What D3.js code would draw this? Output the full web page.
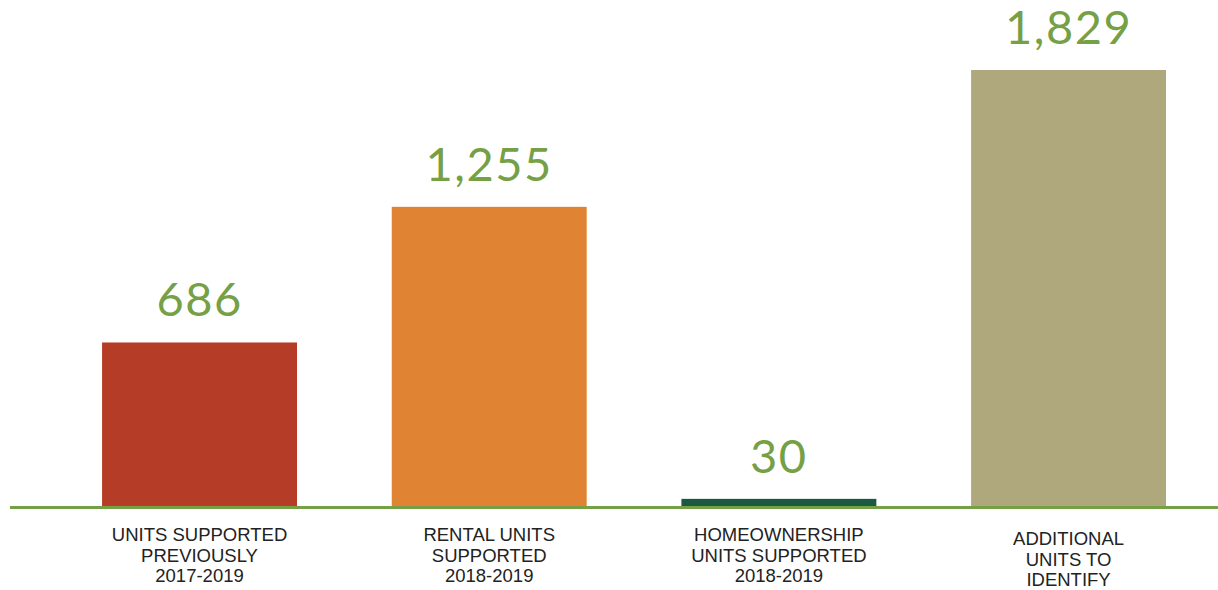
<!DOCTYPE html>
<html>
<head>
<meta charset="utf-8">
<script src="https://cdn.jsdelivr.net/npm/d3@7"></script>
<style>
  html, body { margin: 0; padding: 0; background: #ffffff; }
  svg { display: block; }
</style>
</head>
<body>
<svg id="chart" width="1218" height="590"></svg>
<script>
const categories = ["units_prev", "rental", "homeownership", "additional"];
const categoryLabels = [
  ["UNITS SUPPORTED", "PREVIOUSLY", "2017-2019"],
  ["RENTAL UNITS", "SUPPORTED", "2018-2019"],
  ["HOMEOWNERSHIP", "UNITS SUPPORTED", "2018-2019"],
  ["ADDITIONAL", "UNITS TO", "IDENTIFY"]
];
const values = [686, 1255, 30, 1829];
const barColors = ["#b53d27", "#e08434", "#1b5a40", "#b0a87d"];

const svg = d3.select("#chart");
const W = 1218, baseline = 506, topY = 70;

const x = d3.scaleBand()
  .domain(categories)
  .range([54.7, 1213.4])
  .paddingInner(0.327)
  .paddingOuter(0.1635);

const y = d3.scaleLinear()
  .domain([0, d3.max(values)])
  .range([baseline, topY]);

const data = categories.map((c, i) => ({ c, v: values[i], color: barColors[i], lines: categoryLabels[i] }));

svg.selectAll("rect.bar")
  .data(data)
  .join("rect")
  .attr("class", "bar")
  .attr("x", d => x(d.c))
  .attr("width", x.bandwidth())
  .attr("y", d => y(d.v))
  .attr("height", d => baseline - y(d.v))
  .attr("fill", d => d.color);

// baseline axis line
svg.append("line")
  .attr("x1", 10).attr("x2", W)
  .attr("y1", baseline + 1.5).attr("y2", baseline + 1.5)
  .attr("stroke", "#76a046")
  .attr("stroke-width", 3);

// value labels
svg.selectAll("text.val")
  .data(data)
  .join("text")
  .attr("class", "val")
  .attr("x", d => x(d.c) + x.bandwidth() / 2)
  .attr("y", d => y(d.v) - 26)
  .attr("text-anchor", "middle")
  .attr("font-family", "Lato, 'Open Sans', sans-serif")
  .attr("font-size", 47)
  .attr("letter-spacing", 1.5)
  .attr("fill", "#76a046")
  .text(d => d3.format(",")(d.v));

// category labels
const lab = svg.selectAll("text.cat")
  .data(data)
  .join("text")
  .attr("class", "cat")
  .attr("text-anchor", "middle")
  .attr("font-family", "'Liberation Sans', Arial, sans-serif")
  .attr("font-size", 18.5)
  .attr("fill", "#222222");

lab.each(function(d, i) {
  const t = d3.select(this);
  const cx = x(d.c) + x.bandwidth() / 2;
  const y0 = i === 3 ? 545 : 541;
  d.lines.forEach((ln, k) => {
    t.append("tspan")
      .attr("x", cx)
      .attr("y", y0 + k * 20.5)
      .text(ln);
  });
});
</script>
</body>
</html>
